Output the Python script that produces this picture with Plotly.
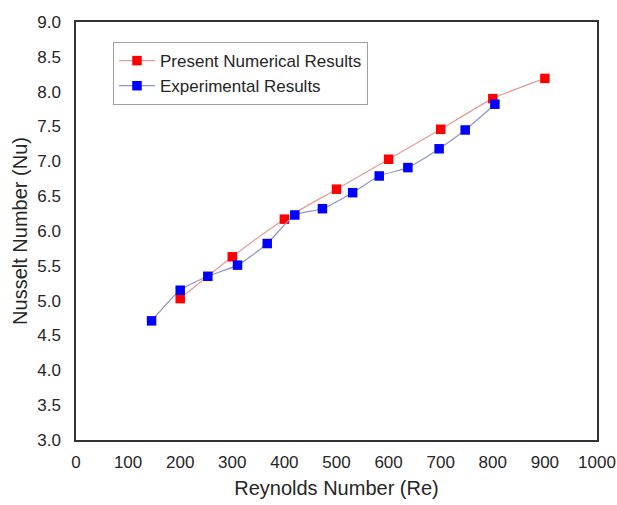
import plotly.graph_objects as go

# Present numerical results
re_num = [200, 300, 400, 500, 600, 700, 800, 900]
nu_num = [5.03, 5.63, 6.17, 6.60, 7.03, 7.46, 7.90, 8.19]

# Experimental results
re_exp = [145, 200, 253, 310, 367, 420, 473, 531, 582, 637, 697, 747, 804]
nu_exp = [4.71, 5.15, 5.35, 5.51, 5.82, 6.23, 6.32, 6.55, 6.79, 6.91, 7.18, 7.45, 7.82]

x_ticks = list(range(0, 1001, 100))
y_ticks = [3.0 + 0.5 * i for i in range(13)]

font_family = "Liberation Sans, Arial, sans-serif"
text_color = "#262626"

fig = go.Figure()
fig.add_trace(go.Scatter(
    x=re_num, y=nu_num, mode="lines+markers", name="Present Numerical Results",
    line=dict(color="#e39a9a", width=1.2, shape="spline", smoothing=0.6),
    marker=dict(symbol="square", size=9.5, color="#ff0000"),
))
fig.add_trace(go.Scatter(
    x=re_exp, y=nu_exp, mode="lines+markers", name="Experimental Results",
    line=dict(color="#8f95c8", width=1.2, shape="spline", smoothing=0.6),
    marker=dict(symbol="square", size=9.5, color="#0000ff"),
))

fig.update_layout(
    width=617, height=505,
    margin=dict(l=76, r=20, t=22, b=65),
    paper_bgcolor="white", plot_bgcolor="white",
    font=dict(family=font_family, size=17, color=text_color),
    showlegend=True,
    legend=dict(
        x=0.071, y=0.952, xanchor="left", yanchor="top",
        bordercolor="#a0a0a0", borderwidth=1, bgcolor="white",
        font=dict(size=17, color=text_color),
        tracegroupgap=0, itemwidth=36,
    ),
    xaxis=dict(
        range=[0, 1000], tickvals=x_ticks, ticktext=[str(v) for v in x_ticks],
        showgrid=False, zeroline=False, showline=True, linecolor="#333333",
        linewidth=1.5, mirror=True, ticks="", automargin=False,
        ticklabelstandoff=6,
        title=dict(text="Reynolds Number (Re)", font=dict(size=20), standoff=10),
        tickfont=dict(size=17),
    ),
    yaxis=dict(
        range=[3.0, 9.0], tickvals=y_ticks, ticktext=[f"{v:.1f}" for v in y_ticks],
        showgrid=False, zeroline=False, showline=True, linecolor="#333333",
        linewidth=1.5, mirror=True, ticks="", automargin=False,
        ticklabelstandoff=10,
        title=dict(text="Nusselt Number (Nu)", font=dict(size=20), standoff=4),
        tickfont=dict(size=17),
    ),
)

fig.write_html("out.html")
